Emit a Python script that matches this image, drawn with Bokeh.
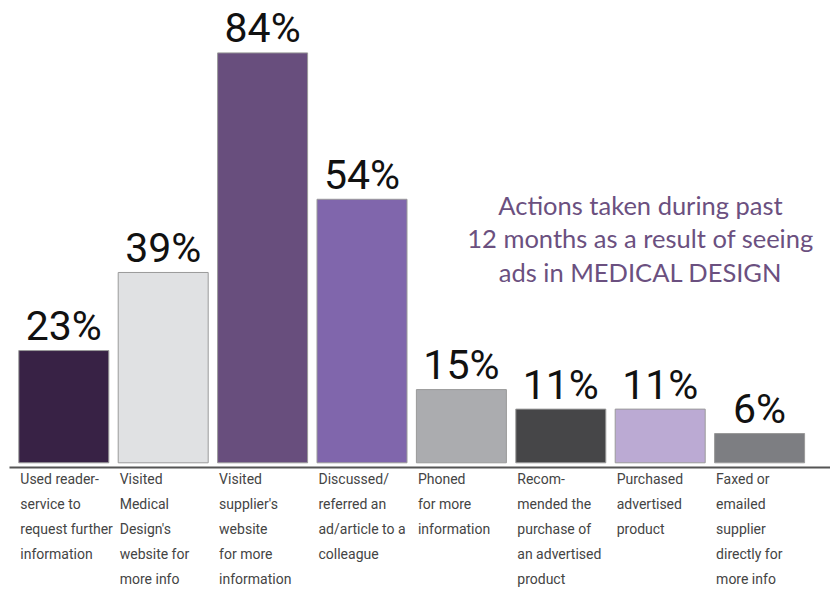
from bokeh.plotting import figure
from bokeh.models import ColumnDataSource, Label
from bokeh.core.properties import value
from bokeh.embed import file_html
from bokeh.resources import INLINE

# ---- data ----
categories = [
    "Used reader-\nservice to\nrequest further\ninformation",
    "Visited\nMedical\nDesign's\nwebsite for\nmore info",
    "Visited\nsupplier's\nwebsite\nfor more\ninformation",
    "Discussed/\nreferred an\nad/article to a\ncolleague",
    "Phoned\nfor more\ninformation",
    "Recom-\nmended the\npurchase of\nan advertised\nproduct",
    "Purchased\nadvertised\nproduct",
    "Faxed or\nemailed\nsupplier\ndirectly for\nmore info",
]
percentages = [23, 39, 84, 54, 15, 11, 11, 6]
pct_labels = ["23%", "39%", "84%", "54%", "15%", "11%", "11%", "6%"]
bar_colors = ["#382245", "#e0e1e3", "#684e7d", "#8066ac",
              "#abacaf", "#464648", "#bbaad3", "#7d7e82"]
title_text = "Actions taken during past\n12 months as a result of seeing\nads in MEDICAL DESIGN"

W, H = 830, 595
px_per_unit_x = 99.4
px_per_pct = 4.88
x0_px = 63.3       # pixel center of first bar
base_px = 462.3    # pixel y of bar baseline (from top)

x_start = -x0_px / px_per_unit_x
x_end = (W - x0_px) / px_per_unit_x
y_end = base_px / px_per_pct
y_start = -(H - base_px) / px_per_pct

idx = list(range(len(percentages)))
bar_w = 90 / px_per_unit_x

src = ColumnDataSource(dict(
    x=idx,
    top=percentages,
    color=bar_colors,
    label=pct_labels,
    label_y=[v + 0.5 / px_per_pct for v in percentages],
    cat=categories,
    cat_x=[i - bar_w / 2 + 1.5 / px_per_unit_x for i in idx],
    cat_y=[-(470 - base_px) / px_per_pct] * len(idx),
))

p = figure(width=W, height=H, x_range=(x_start, x_end), y_range=(y_start, y_end),
           output_backend="svg", toolbar_location=None, min_border=0,
           outline_line_color=None)
p.xaxis.visible = False
p.yaxis.visible = False
p.xgrid.visible = False
p.ygrid.visible = False
p.background_fill_color = "white"
p.border_fill_color = "white"

p.vbar(x="x", top="top", bottom=0, width=bar_w, fill_color="color",
       line_color="#9a9a9a", line_width=1, source=src)

# baseline axis line
ax_y = -(467 - base_px) / px_per_pct
p.segment(x0=[(9 - x0_px) / px_per_unit_x], y0=[ax_y], x1=[x_end], y1=[ax_y],
          line_color="#555555", line_width=2)

p.text(x="x", y="label_y", text="label", source=src,
       text_font=value("Roboto"), text_font_size="41px",
       text_align="center", text_baseline="bottom", text_color="#111111")

p.text(x="cat_x", y="cat_y", text="cat", source=src,
       text_font=value("Roboto"), text_font_size="14px",
       text_align="left", text_baseline="top", text_color="#444444",
       text_line_height=1.57)

title = Label(x=(640 - x0_px) / px_per_unit_x, y=(base_px - 189) / px_per_pct,
              text=title_text, text_align="center", text_baseline="top",
              text_font="Lato", text_font_size="25.5px", text_color="#6b5080",
              text_line_height=1.13)
p.add_layout(title)

open("out.html", "w").write(file_html(p, INLINE))
